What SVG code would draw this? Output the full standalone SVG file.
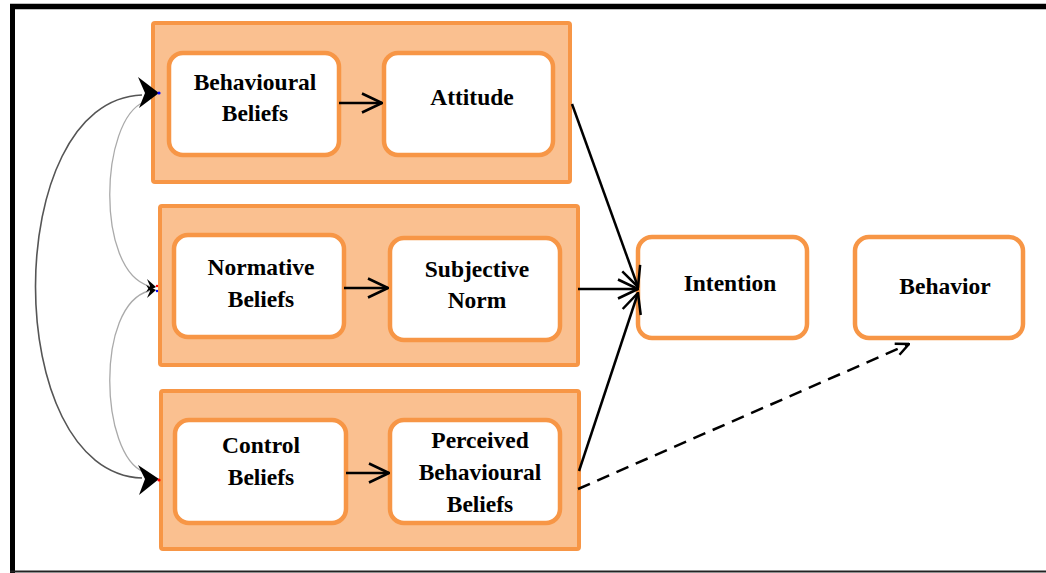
<svg xmlns="http://www.w3.org/2000/svg" width="1046" height="573" viewBox="0 0 1046 573">
  <style>
    .grp { fill: #FAC090; stroke: #F79646; stroke-width: 4; }
    .box { fill: #FFFFFF; stroke: #F79646; stroke-width: 4.5; }
    .lbl { font-family: "Liberation Serif", "Times New Roman", serif; font-weight: bold; font-size: 23.5px; fill: #000; text-anchor: middle; }
    .conn { stroke: #000; stroke-width: 2.5; fill: none; }
    .dash { stroke: #000; stroke-width: 2.5; fill: none; stroke-dasharray: 13 8; }
    .curveDark { stroke: #555; stroke-width: 1.6; fill: none; }
    .curveLight { stroke: #AAA; stroke-width: 1.3; fill: none; }
    .head { fill: #000; }
  </style>
  <defs>
    <marker id="open" viewBox="0 0 22 22" refX="21" refY="11" markerWidth="22" markerHeight="22" markerUnits="userSpaceOnUse" orient="auto">
      <path d="M1,1.5 L21,11 L1,20.5" fill="none" stroke="#000" stroke-width="2.5"/>
    </marker>
    <marker id="openSmall" viewBox="0 0 16 16" refX="15" refY="8" markerWidth="16" markerHeight="16" markerUnits="userSpaceOnUse" orient="auto">
      <path d="M2,2 L15,8 L2,14" fill="none" stroke="#000" stroke-width="2.5"/>
    </marker>
  </defs>

  <rect width="1046" height="573" fill="#FFFFFF"/>
  <!-- outer frame -->
  <g id="frame">
    <line x1="10" y1="6.5" x2="1046" y2="6.5" stroke="#000" stroke-width="5.5"/>
    <line x1="12.5" y1="4" x2="12.5" y2="573" stroke="#000" stroke-width="5"/>
    <line x1="10" y1="571.5" x2="1046" y2="571.5" stroke="#222" stroke-width="2"/>
  </g>

  <g id="group-attitude">
    <rect class="grp" x="153" y="23" width="417" height="159" rx="2"/>
  </g>
  <g id="group-norm">
    <rect class="grp" x="160" y="206" width="418" height="159" rx="2"/>
  </g>
  <g id="group-control">
    <rect class="grp" x="161" y="391" width="418" height="158" rx="2"/>
  </g>

  <g id="node-behavioural-beliefs">
    <rect class="box" x="169" y="53" width="170" height="102" rx="14"/>
    <text class="lbl" x="255" y="90">Behavioural</text>
    <text class="lbl" x="255" y="121">Beliefs</text>
  </g>
  <g id="node-attitude">
    <rect class="box" x="384" y="53" width="169" height="102" rx="14"/>
    <text class="lbl" x="472" y="105">Attitude</text>
  </g>
  <g id="node-normative-beliefs">
    <rect class="box" x="174" y="235" width="170" height="102" rx="14"/>
    <text class="lbl" x="261" y="275">Normative</text>
    <text class="lbl" x="261" y="307">Beliefs</text>
  </g>
  <g id="node-subjective-norm">
    <rect class="box" x="390" y="238" width="170" height="102" rx="14"/>
    <text class="lbl" x="477" y="277">Subjective</text>
    <text class="lbl" x="477" y="308">Norm</text>
  </g>
  <g id="node-control-beliefs">
    <rect class="box" x="175" y="420" width="171" height="103" rx="14"/>
    <text class="lbl" x="261" y="453">Control</text>
    <text class="lbl" x="261" y="485">Beliefs</text>
  </g>
  <g id="node-pbc">
    <rect class="box" x="390" y="420" width="170" height="103" rx="14"/>
    <text class="lbl" x="480" y="448">Perceived</text>
    <text class="lbl" x="480" y="480">Behavioural</text>
    <text class="lbl" x="480" y="512">Beliefs</text>
  </g>
  <g id="node-intention">
    <rect class="box" x="638" y="237" width="169" height="101" rx="14"/>
    <text class="lbl" x="730" y="291">Intention</text>
  </g>
  <g id="node-behavior">
    <rect class="box" x="855" y="237" width="168" height="101" rx="14"/>
    <text class="lbl" x="945" y="294">Behavior</text>
  </g>

  <g id="connectors">
    <line class="conn" x1="339" y1="103" x2="382" y2="103" marker-end="url(#open)"/>
    <line class="conn" x1="344" y1="288" x2="388" y2="288" marker-end="url(#open)"/>
    <line class="conn" x1="346" y1="473" x2="389" y2="473" marker-end="url(#open)"/>
    <line class="conn" x1="572" y1="104" x2="638" y2="287" marker-end="url(#open)"/>
    <line class="conn" x1="578" y1="289" x2="638" y2="289" marker-end="url(#open)"/>
    <line class="conn" x1="579" y1="471" x2="638" y2="293" marker-end="url(#open)"/>
    <line class="dash" x1="578" y1="489" x2="909" y2="344" marker-end="url(#openSmall)"/>

    <path class="curveDark" d="M142,95 C0,100 0,473 142,478"/>
    <path class="curveLight" d="M144,102 C100,120 95,270 149,286"/>
    <path class="curveLight" d="M149,291 C95,305 100,455 144,472"/>

    <path class="head" d="M159,93 L138,77 L145,93 L139,108 Z"/>
    <path class="head" d="M159,479 L138,465 L145,479 L139,495 Z"/>
    <path class="head" d="M156,287 L147,279 L150,286 L146,292 Z"/>
    <path class="head" d="M156,290 L146,285 L150,291 L147,298 Z"/>
    <circle cx="159" cy="93" r="1.6" fill="#0000FF"/>
    <circle cx="159" cy="480" r="1.6" fill="#FF0000"/>
    <circle cx="157" cy="286" r="1.2" fill="#FF0000"/>
    <circle cx="157" cy="291" r="1.2" fill="#0000FF"/>
  </g>
</svg>
